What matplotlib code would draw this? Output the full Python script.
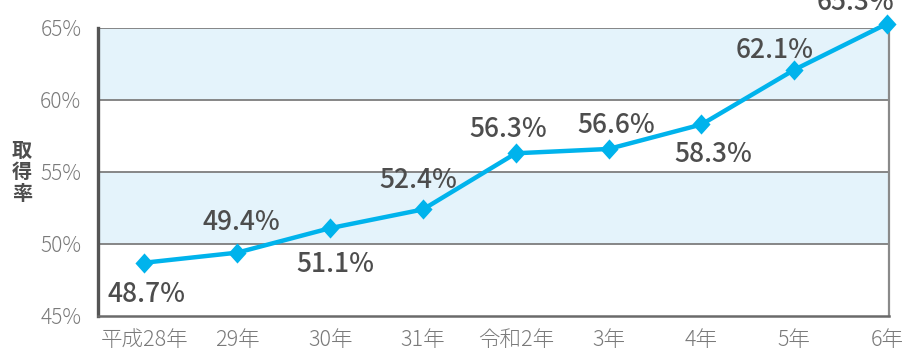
import matplotlib
matplotlib.use("Agg")
import matplotlib.pyplot as plt
from matplotlib.path import Path

plt.rcParams['font.family'] = ['Noto Sans CJK JP', 'DejaVu Sans']

# Data
years = ["平成28年", "29年", "30年", "31年", "令和2年", "3年", "4年", "5年", "6年"]
rates = [48.7, 49.4, 51.1, 52.4, 56.3, 56.6, 58.3, 62.1, 65.3]
y_ticks = [45, 50, 55, 60, 65]

# Label placement relative to each point (pixels: right, up)
label_offsets = [(2, -39), (4, 23), (5, -44), (-5, 21), (-8, 16),
                 (8, 16), (12, -38), (-20, 12), (-32, 14)]

LINE = "#00b3ec"
BAND = "#e4f3fb"
GRID = "#7d7d7d"
TEXT = "#4d4d4d"
TICK = "#7a7a7a"

fig = plt.figure(figsize=(9.08, 3.52), dpi=100)
ax = fig.add_axes([98 / 908, 1 - 316 / 352, (889 - 98) / 908, (316 - 28) / 352])

ax.set_xlim(-0.5, 8.02)
ax.set_ylim(45, 65)

# Alternating shaded bands
for lo, hi in [(50, 55), (60, 65)]:
    ax.axhspan(lo, hi, color=BAND, zorder=0, lw=0)
for y in [50, 55, 60, 65]:
    ax.axhline(y, color=GRID, lw=1.3, zorder=1)

diamond = Path([(0, 1), (0.9, 0), (0, -1), (-0.9, 0), (0, 1)],
               [Path.MOVETO, Path.LINETO, Path.LINETO, Path.LINETO, Path.CLOSEPOLY])

xs = list(range(len(years)))
ax.plot(xs, rates, color=LINE, lw=3.2, marker=diamond, markersize=14.5,
        markeredgewidth=0, zorder=5, clip_on=False, solid_joinstyle='round')

for x, v, (dx, dy) in zip(xs, rates, label_offsets):
    ax.annotate(f"{v:.1f}%", (x, v), xytext=(dx, dy), textcoords='offset pixels',
                ha='center', va='baseline', fontsize=19, color=TEXT,
                fontweight='medium', annotation_clip=False, zorder=6)

ax.set_xticks(xs)
ax.set_xticklabels(years, fontsize=15.5, color=TICK, fontweight='light')
ax.set_yticks(y_ticks)
ax.set_yticklabels([f"{t}%" for t in y_ticks], fontsize=15, color=TICK,
                   fontweight='light')
ax.tick_params(length=0)
ax.tick_params(axis='y', pad=12)
ax.tick_params(axis='x', pad=9)

ax.spines['top'].set_visible(False)
ax.spines['left'].set_color("#555555")
ax.spines['left'].set_linewidth(2.4)
ax.spines['bottom'].set_color("#6a6a6a")
ax.spines['bottom'].set_linewidth(1.8)
ax.spines['right'].set_color("#8a8a8a")
ax.spines['right'].set_linewidth(1.6)

fig.text(22 / 908, 1 - 172 / 352, "取\n得\n率", ha='center', va='center',
         fontsize=14.5, color=TEXT, fontweight='bold', linespacing=1.02)

fig.savefig("out.png", dpi=100)
